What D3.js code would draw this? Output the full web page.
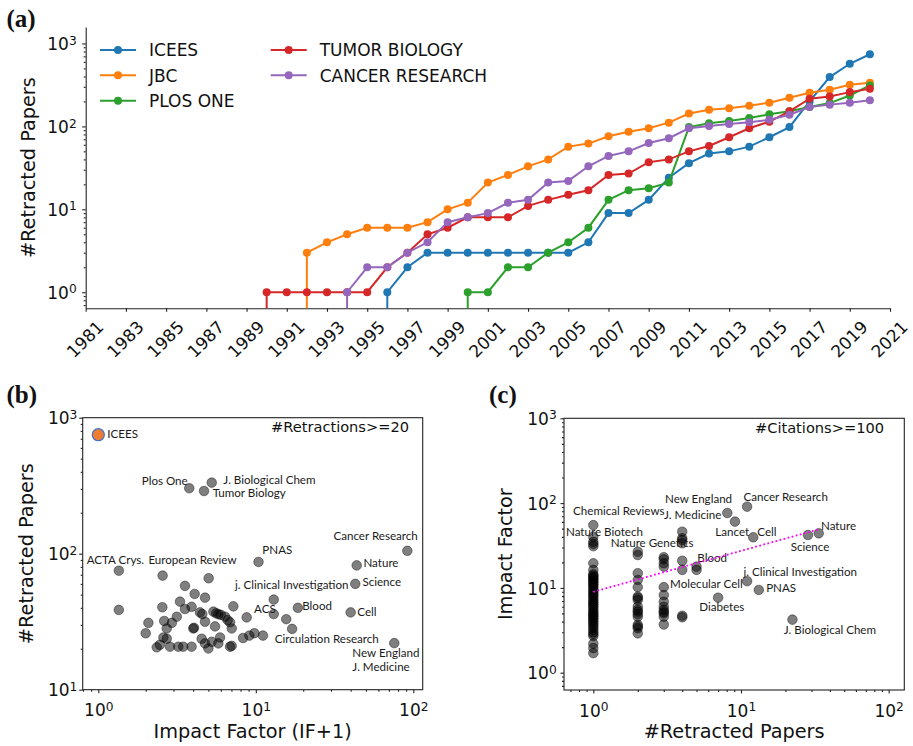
<!DOCTYPE html>
<html>
<head>
<meta charset="utf-8">
<script src="https://cdn.jsdelivr.net/npm/d3@7"></script>
<style>
  body { margin: 0; background: #fff; }
</style>
</head>
<body>
<div id="chart"></div>
<script>
// ---- panel (a): cumulative retracted papers per year ----
const years = [1981, 1982, 1983, 1984, 1985, 1986, 1987, 1988, 1989, 1990,
  1991, 1992, 1993, 1994, 1995, 1996, 1997, 1998, 1999, 2000,
  2001, 2002, 2003, 2004, 2005, 2006, 2007, 2008, 2009, 2010,
  2011, 2012, 2013, 2014, 2015, 2016, 2017, 2018, 2019, 2020];
const seriesNames = ["ICEES", "JBC", "PLOS ONE", "TUMOR BIOLOGY", "CANCER RESEARCH"];
const icees = [0, 0, 0, 0, 0, 0, 0, 0, 0, 0, 0, 0, 0, 0, 0, 1, 2, 3, 3, 3,
  3, 3, 3, 3, 3, 4, 9, 9, 13, 24, 36, 47, 50, 57, 74, 98, 200, 393, 569, 741];
const jbc = [0, 0, 0, 0, 0, 0, 0, 0, 0, 0, 0, 3, 4, 5, 6, 6, 6, 7, 10, 12,
  21, 26, 33, 40, 57, 62, 76, 86, 95, 111, 143, 159, 166, 177, 193, 222, 255, 277, 318, 336];
const plosOne = [0, 0, 0, 0, 0, 0, 0, 0, 0, 0, 0, 0, 0, 0, 0, 0, 0, 0, 0, 1,
  1, 2, 2, 3, 4, 6, 13, 17, 18, 21, 98, 109, 116, 126, 140, 152, 171, 191, 236, 312];
const tumorBiology = [0, 0, 0, 0, 0, 0, 0, 0, 0, 1, 1, 1, 1, 1, 1, 2, 3, 5, 6, 8,
  8, 8, 11, 13, 15, 17, 26, 27, 37, 40, 50, 58, 74, 95, 114, 152, 216, 230, 259, 285];
const cancerResearch = [0, 0, 0, 0, 0, 0, 0, 0, 0, 0, 0, 0, 0, 1, 2, 2, 3, 4, 7, 8,
  9, 12, 13, 21, 22, 33, 44, 50, 63, 72, 95, 101, 107, 112, 120, 138, 171, 183, 193, 206];
const yearTicks = [1981, 1983, 1985, 1987, 1989, 1991, 1993, 1995, 1997, 1999, 2001,
  2003, 2005, 2007, 2009, 2011, 2013, 2015, 2017, 2019, 2021];

// ---- panel (b): impact factor (IF+1) vs retracted papers, journals with >= 20 retractions ----
const bImpact = [3.78, 5.25, 4.69, 1.35, 10.4, 91.6, 43.7, 42.8, 40, 75.7, 18.5, 13, 8.75, 17,
  13, 15.6, 11.1, 9.8, 9.1, 8.3, 7.2, 7.03, 5.02, 4.76, 1.35, 2.56, 3.55, 4.09, 3.3, 2.55,
  3.55, 3.91, 4.42, 4.57, 5.38, 5.6, 5.78, 6.0, 6.37, 6.63, 6.86, 2.08, 2.0, 2.62, 2.93, 3.15,
  2.72, 4.01, 4.05, 4.76, 5.51, 7.03, 2.59, 2.72, 4.53, 4.76, 5.25, 5.93, 5.78, 2.35, 2.46,
  2.85, 3.22, 3.46, 3.91, 5.0, 6.86];
const bRetracted = [303, 333, 289, 75, 87, 105, 82, 60, 37, 22, 40, 46, 34, 28,
  36, 33, 25, 26, 25, 24, 41, 21, 66, 47.5, 38.6, 69, 58, 50.6, 44.4, 40.4,
  39.2, 40.7, 37, 36, 37.5, 36.5, 35.9, 35.5, 34.4, 32.5, 31.3, 31, 26, 32, 31, 34.4,
  28.2, 28.2, 28.5, 31.6, 29.2, 28.2, 24.2, 23.7, 23.7, 21.9, 22.5, 24.2, 21.9, 20.5, 21.4,
  20.7, 20.7, 20.7, 20.7, 20.1, 20.7];
const bIcees = { impact: 1.0, retracted: 750 };
const bLabelText = ["ICEES", "Plos One", "J. Biological Chem", "Tumor Biology", "ACTA Crys.",
  "European Review", "PNAS", "Cancer Research", "Nature", "Science", "j. Clinical Investigation",
  "ACS", "Blood", "Cell", "Circulation Research", "New England", "J. Medicine"];
const bLabelX = [1.14, 1.887, 6.22, 5.32, 0.844, 2.08, 11.0, 31.1, 48.2, 47.5, 7.38,
  9.74, 19.7, 44.1, 13.2, 41, 41];
const bLabelY = [710, 320, 325, 259, 84, 84, 98.7, 126, 79.8, 58.3, 55,
  36.6, 38.5, 34.8, 22.2, 17.4, 13.7];

// ---- panel (c): retracted papers vs impact factor, papers with >= 100 citations ----
const cRetracted = [1, 1, 1, 1, 1, 1, 1, 1, 1, 1, 1, 1, 1, 1, 1, 1, 1, 1, 1, 1, 1, 1, 1,
  1, 1, 1, 1, 1, 1, 1, 1, 1, 1, 1, 1, 1, 1, 1, 1, 1, 1, 1, 1, 1, 1, 1,
  2, 2, 2, 2, 2, 2, 2, 2, 2, 2, 2, 2, 2, 2, 2, 2, 2,
  3, 3, 3, 3, 3, 3, 3, 3, 3, 3, 3, 3, 3,
  4, 4, 4, 4, 4, 4, 4, 4,
  5, 5,
  8.08, 9.1, 11, 12.1, 28.4, 33.6, 11, 13.2, 7.0, 22.3];
const cImpact = [55, 40, 35, 33, 31, 19.5, 16.3, 14.5, 14, 13.5, 13, 12.5, 12, 11.5, 11, 10.5, 10,
  9.5, 9, 8.6, 8.2, 7.8, 7.4, 7, 6.7, 6.4, 6.1, 5.8, 5.5, 5.2, 5.0, 4.8, 4.6, 4.4, 4.2, 4.0,
  3.8, 3.6, 3.4, 3.2, 3.0, 2.85, 2.7, 2.2, 1.95, 1.7,
  26.7, 24.4, 14.9, 12.4, 10.2, 7.9, 7.6, 7.2, 6.0, 5.5, 5.25, 4.9, 4.57, 3.66, 3.5, 3.34, 2.91,
  23, 21.7, 19.5, 17.8, 10.2, 8.24, 6.87, 6.0, 5.5, 5.2, 5.0, 4.57, 3.7,
  46, 38.5, 36.6, 33.6, 20.9, 16.3, 4.7, 4.5,
  17.8, 16.3,
  76.4, 60.4, 90.7, 39.5, 42, 44, 12.0, 9.45, 7.66, 4.22];
const cTrendX = [1, 33.5];
const cTrendY = [9, 49];
const cLabelText = ["Chemical Reviews", "Nature Biotech", "Nature Genetics", "New England",
  "J. Medicine", "Cancer Research", "Lancet", "Cell", "Nature", "Science", "Blood",
  "j. Clinical Investigation", "Molecular Cell", "PNAS", "Diabetes", "J. Biological Chem"];
const cLabelX = [0.729, 0.653, 1.31, 3.06, 3.01, 10.4, 6.7, 12.9, 34.8, 21.7, 5.06,
  10.4, 3.31, 14.8, 5.22, 19.5];
const cLabelY = [72.4, 40.5, 30, 100, 64.9, 106, 40.9, 40.9, 48.2, 26.9, 20.2,
  13.8, 9.97, 8.83, 5.34, 2.86];

const colors = ["#1f77b4", "#ff7f0e", "#2ca02c", "#d62728", "#9467bd"];
const seriesValues = [icees, jbc, plosOne, tumorBiology, cancerResearch];

const svg = d3.select("#chart")
  .append("svg")
  .attr("width", 913)
  .attr("height", 746)
  .style("background", "#fff");

const sans = "DejaVu Sans, sans-serif";

function styleAxis(g, size) {
  g.attr("font-family", sans).attr("font-size", size || 17);
  g.selectAll("line, path").attr("stroke", "#222").attr("stroke-width", 1.1);
  g.selectAll("text").attr("fill", "#111");
}

// power-of-ten labels like 10^3 with a raised exponent
function powerLabels(g) {
  g.selectAll(".tick text").each(function(d) {
    const t = d3.select(this);
    t.text(null);
    t.append("tspan").text("10");
    t.append("tspan")
      .attr("dy", "-0.45em")
      .attr("font-size", "0.72em")
      .text(Math.round(Math.log10(d)));
  });
}

function minorValues(domain) {
  const out = [];
  const lo = Math.min(...domain), hi = Math.max(...domain);
  for (let k = Math.floor(Math.log10(lo)); k <= Math.ceil(Math.log10(hi)); k++) {
    for (let m = 2; m <= 9; m++) {
      const v = m * Math.pow(10, k);
      if (v >= lo && v <= hi) out.push(v);
    }
  }
  return out;
}

function panelLabel(x, y, s) {
  svg.append("text")
    .attr("x", x)
    .attr("y", y)
    .attr("font-family", "Liberation Serif, Times New Roman, serif")
    .attr("font-weight", "bold")
    .attr("font-size", 25)
    .attr("fill", "#111")
    .text(s);
}

// ================= panel (a) =================
const a = { left: 85.7, right: 890, top: 27, bottom: 308.3 };

const xA = d3.scaleLinear().domain([1981, 2021]).range([a.left, a.right]);
const yA = d3.scaleLog().domain([0.64, 1580]).range([a.bottom, a.top]);

svg.append("clipPath")
  .attr("id", "clipA")
  .append("rect")
  .attr("x", a.left)
  .attr("y", a.top - 10)
  .attr("width", a.right - a.left + 10)
  .attr("height", a.bottom - a.top + 10);

const gx = svg.append("g")
  .attr("transform", `translate(0,${a.bottom})`)
  .call(d3.axisBottom(xA).tickValues(yearTicks).tickFormat(d3.format("d")).tickSize(3.5).tickSizeOuter(0));
styleAxis(gx);
gx.selectAll(".tick text")
  .attr("y", 0)
  .attr("dy", "0.35em")
  .attr("text-anchor", "middle")
  .attr("transform", "translate(-1,31) rotate(-45)");

const gyMinor = svg.append("g")
  .attr("transform", `translate(${a.left},0)`)
  .call(d3.axisLeft(yA).tickValues(minorValues(yA.domain())).tickFormat("").tickSize(2));
gyMinor.select(".domain").remove();
styleAxis(gyMinor);

const gy = svg.append("g")
  .attr("transform", `translate(${a.left},0)`)
  .call(d3.axisLeft(yA).tickValues([1, 10, 100, 1000]).tickSize(3.5).tickPadding(5.5).tickSizeOuter(0));
styleAxis(gy);
gy.selectAll(".tick text").attr("dy", "0.36em");
powerLabels(gy);

svg.append("text")
  .attr("transform", `translate(35,${(a.top + a.bottom) / 2}) rotate(-90)`)
  .attr("text-anchor", "middle")
  .attr("font-family", sans)
  .attr("font-size", 19.3)
  .attr("fill", "#111")
  .text("#Retracted Papers");

const plotA = svg.append("g").attr("clip-path", "url(#clipA)");

// zero counts are pushed far below the axis, so each series rises vertically from the bottom
const lineA = d3.line()
  .x(d => xA(d.year))
  .y(d => yA(d.v > 0 ? d.v : 1e-300));

seriesValues.forEach((vals, i) => {
  const pts = years.map((yr, j) => ({ year: yr, v: vals[j] }));
  plotA.append("path")
    .datum(pts)
    .attr("d", lineA)
    .attr("fill", "none")
    .attr("stroke", colors[i])
    .attr("stroke-width", 2);
  plotA.selectAll(null)
    .data(pts.filter(d => d.v > 0))
    .enter()
    .append("circle")
    .attr("cx", d => xA(d.year))
    .attr("cy", d => yA(d.v))
    .attr("r", 4)
    .attr("fill", colors[i]);
});

// legend, two columns
const legendCols = [[0, 1, 2], [3, 4]];
const legendX = [100, 270.7];
const legendY = [50, 75.3, 100.7];
legendCols.forEach((col, c) => {
  col.forEach((si, r) => {
    const lg = svg.append("g").attr("transform", `translate(${legendX[c]},${legendY[r]})`);
    lg.append("line").attr("x1", 0).attr("x2", 36).attr("stroke", colors[si]).attr("stroke-width", 2);
    lg.append("circle").attr("cx", 18).attr("r", 4).attr("fill", colors[si]);
    lg.append("text")
      .attr("x", 49)
      .attr("y", 6.2)
      .attr("font-family", sans)
      .attr("font-size", 17)
      .attr("fill", "#111")
      .text(seriesNames[si]);
  });
});

panelLabel(6.5, 27, "(a)");

// ================= shared scatter panel builder =================
function scatterPanel(p) {
  const x = d3.scaleLog().domain(p.xDomain).range([p.left, p.right]);
  const y = d3.scaleLog().domain(p.yDomain).range([p.bottom, p.top]);

  const gxm = svg.append("g")
    .attr("transform", `translate(0,${p.bottom})`)
    .call(d3.axisBottom(x).tickValues(minorValues(p.xDomain)).tickFormat("").tickSize(2));
  gxm.select(".domain").remove();
  styleAxis(gxm);

  const gxb = svg.append("g")
    .attr("transform", `translate(0,${p.bottom})`)
    .call(d3.axisBottom(x).tickValues(p.xMajor).tickSize(3.5).tickSizeOuter(0));
  gxb.select(".domain").remove();
  styleAxis(gxb);
  gxb.selectAll(".tick text").attr("y", 26.5).attr("dy", null);
  powerLabels(gxb);

  const gym = svg.append("g")
    .attr("transform", `translate(${p.left},0)`)
    .call(d3.axisLeft(y).tickValues(minorValues(p.yDomain)).tickFormat("").tickSize(2));
  gym.select(".domain").remove();
  styleAxis(gym);

  const gyb = svg.append("g")
    .attr("transform", `translate(${p.left},0)`)
    .call(d3.axisLeft(y).tickValues(p.yMajor).tickSize(3.5).tickPadding(p.yPad).tickSizeOuter(0));
  gyb.select(".domain").remove();
  styleAxis(gyb);
  gyb.selectAll(".tick text").attr("dy", "0.36em");
  powerLabels(gyb);

  svg.append("rect")
    .attr("x", p.left)
    .attr("y", p.top)
    .attr("width", p.right - p.left)
    .attr("height", p.bottom - p.top)
    .attr("fill", "none")
    .attr("stroke", "#222")
    .attr("stroke-width", 1.1);

  svg.selectAll(null)
    .data(p.xs.map((v, i) => [v, p.ys[i]]))
    .enter()
    .append("circle")
    .attr("cx", d => x(d[0]))
    .attr("cy", d => y(d[1]))
    .attr("r", 4.8)
    .attr("fill", "#000")
    .attr("fill-opacity", 0.5)
    .attr("stroke", "#000")
    .attr("stroke-opacity", 0.5)
    .attr("stroke-width", 0.8);

  svg.selectAll(null)
    .data(p.labels.map((s, i) => ({ s, x: p.labelX[i], y: p.labelY[i] })))
    .enter()
    .append("text")
    .attr("x", d => x(d.x))
    .attr("y", d => y(d.y))
    .attr("font-family", "Lato, Carlito, sans-serif")
    .attr("font-size", 11.6)
    .attr("fill", "#1a1a1a")
    .text(d => d.s);

  svg.append("text")
    .attr("x", p.right - p.noteRight)
    .attr("y", p.top + 14.5)
    .attr("text-anchor", "end")
    .attr("font-family", sans)
    .attr("font-size", 14.6)
    .attr("fill", "#111")
    .text(p.note);

  svg.append("text")
    .attr("x", (p.left + p.right) / 2)
    .attr("y", 737.5)
    .attr("text-anchor", "middle")
    .attr("font-family", sans)
    .attr("font-size", 19.3)
    .attr("fill", "#111")
    .text(p.xTitle);

  svg.append("text")
    .attr("transform", `translate(${p.yTitleX},${(p.top + p.bottom) / 2}) rotate(-90)`)
    .attr("text-anchor", "middle")
    .attr("font-family", sans)
    .attr("font-size", 19.3)
    .attr("fill", "#111")
    .text(p.yTitle);

  return { x, y };
}

// ================= panel (b) =================
const sb = scatterPanel({
  left: 82.7, right: 422.7, top: 417.7, bottom: 689.7,
  xDomain: [0.796, 114.7], yDomain: [10, 1000],
  xMajor: [1, 10, 100], yMajor: [10, 100, 1000], yPad: 1.8,
  xs: bImpact, ys: bRetracted,
  labels: bLabelText, labelX: bLabelX, labelY: bLabelY,
  note: "#Retractions>=20", noteRight: 13.7,
  xTitle: "Impact Factor (IF+1)", yTitle: "#Retracted Papers", yTitleX: 33
});

svg.append("circle")
  .attr("cx", sb.x(bIcees.impact))
  .attr("cy", sb.y(bIcees.retracted))
  .attr("r", 6)
  .attr("fill", "#ee7d31")
  .attr("stroke", "#4472c4")
  .attr("stroke-width", 1.3);

panelLabel(6.5, 403, "(b)");

// ================= panel (c) =================
const sc = scatterPanel({
  left: 564, right: 904.3, top: 418.3, bottom: 690,
  xDomain: [0.633, 127.6], yDomain: [0.625, 1000],
  xMajor: [1, 10, 100], yMajor: [1, 10, 100, 1000], yPad: 3.8,
  xs: cRetracted, ys: cImpact,
  labels: cLabelText, labelX: cLabelX, labelY: cLabelY,
  note: "#Citations>=100", noteRight: 20.3,
  xTitle: "#Retracted Papers", yTitle: "Impact Factor", yTitleX: 511.5
});

svg.append("line")
  .attr("x1", sc.x(cTrendX[0]))
  .attr("y1", sc.y(cTrendY[0]))
  .attr("x2", sc.x(cTrendX[1]))
  .attr("y2", sc.y(cTrendY[1]))
  .attr("stroke", "#ff00ff")
  .attr("stroke-width", 1.8)
  .attr("stroke-dasharray", "1.8,2.4");

panelLabel(489, 403, "(c)");
</script>
</body>
</html>
